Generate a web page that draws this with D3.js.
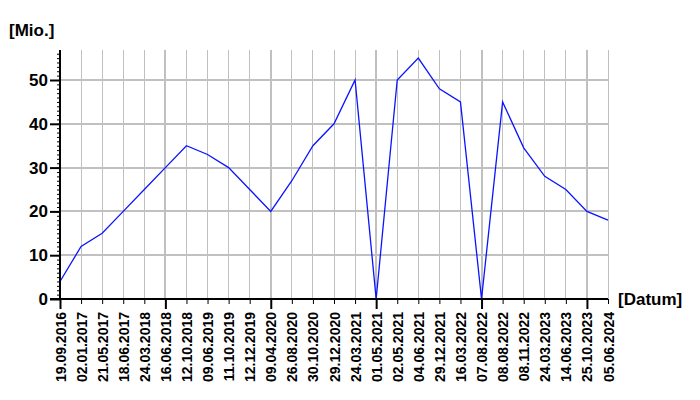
<!DOCTYPE html>
<html>
<head>
<meta charset="utf-8">
<script src="https://cdn.jsdelivr.net/npm/d3@7"></script>
<style>
  html, body { margin: 0; padding: 0; background: #fff; }
  svg { display: block; }
  text { font-family: "Liberation Sans", Arial, sans-serif; fill: #000; }
</style>
</head>
<body>
<svg id="chart" width="700" height="400"></svg>
<script>
const dates = ["19.09.2016","02.01.2017","21.05.2017","18.06.2017","24.03.2018","16.06.2018",
  "12.10.2018","09.06.2019","11.10.2019","12.12.2019","09.04.2020","26.08.2020","30.10.2020",
  "29.12.2020","24.03.2021","01.05.2021","02.05.2021","04.06.2021","29.12.2021","16.03.2022",
  "07.08.2022","08.08.2022","08.11.2022","24.03.2023","14.06.2023","25.10.2023","05.06.2024"];
const values = [4, 12, 15, 20, 25, 30, 35, 33, 30, 25, 20, 27, 35, 40, 50, 0, 50, 55, 48, 45,
  0, 45, 34.5, 28, 25, 20, 18];
const yMajorTicks = [0, 10, 20, 30, 40, 50];
const yMinorTicks = d3.range(0, 57, 1);
const yLabel = "[Mio.]";
const xLabel = "[Datum]";

const svg = d3.select("#chart");
const x = d3.scalePoint().domain(dates).range([60, 608]);
const y = d3.scaleLinear().domain([0, 50]).range([299, 80]);
const yTop = y(56.85);

const grid = svg.append("g").attr("shape-rendering", "crispEdges");
// vertical grid
grid.selectAll("line.v").data(dates).enter().append("line")
  .attr("x1", d => x(d)).attr("x2", d => x(d))
  .attr("y1", yTop).attr("y2", y(0))
  .attr("stroke", "#c0c0c0")
  .attr("stroke-width", (d, i) => i % 5 === 0 ? 2 : 1);
// horizontal grid
grid.selectAll("line.h").data(yMajorTicks.filter(v => v > 0)).enter().append("line")
  .attr("x1", 60).attr("x2", x(dates[dates.length - 1]))
  .attr("y1", d => y(d)).attr("y2", d => y(d))
  .attr("stroke", "#c0c0c0").attr("stroke-width", 2);

// data line
svg.append("path")
  .datum(values)
  .attr("fill", "none")
  .attr("stroke", "#0a14ff")
  .attr("stroke-width", 1.3)
  .attr("d", d3.line().x((d, i) => x(dates[i])).y(d => y(d)));

// Y axis
const yAxisMinor = d3.axisLeft(y).tickValues(yMinorTicks).tickSize(3).tickFormat("");
const yAxisMajor = d3.axisLeft(y).tickValues(yMajorTicks).tickSize(10).tickPadding(2).tickFormat(d3.format("d"));
const gyMinor = svg.append("g").attr("transform", "translate(60,0)").call(yAxisMinor);
gyMinor.select(".domain").remove();
gyMinor.selectAll("line").attr("stroke", "#000").attr("stroke-width", 1);
const gy = svg.append("g").attr("transform", "translate(60,0)").call(yAxisMajor);
gy.select(".domain").remove();
gy.selectAll("line").attr("stroke", "#000").attr("stroke-width", 2);
gy.selectAll("text").attr("font-size", 17).attr("font-weight", "bold")
  .attr("font-family", "'Liberation Sans', Arial, sans-serif").attr("fill", "#000");
svg.append("line").attr("x1", 60).attr("x2", 60).attr("y1", yTop).attr("y2", y(0))
  .attr("stroke", "#000").attr("stroke-width", 2).attr("shape-rendering", "crispEdges");

// X axis
const gx = svg.append("g").attr("transform", `translate(0,${y(0)})`)
  .call(d3.axisBottom(x).tickSize(5).tickPadding(6));
gx.select(".domain").remove();
gx.selectAll(".tick line")
  .attr("stroke", "#000")
  .attr("stroke-width", (d, i) => i % 5 === 0 ? 2 : 1)
  .attr("y2", (d, i) => i % 5 === 0 ? 10 : 5);
gx.selectAll("text")
  .attr("font-size", 14).attr("font-weight", "bold")
  .attr("font-family", "'Liberation Sans', Arial, sans-serif").attr("fill", "#000")
  .attr("text-anchor", "end")
  .attr("transform", "rotate(-90)")
  .attr("x", -13).attr("y", 0).attr("dy", "0.36em");
svg.append("line").attr("x1", 50).attr("x2", x(dates[dates.length - 1]))
  .attr("y1", y(0)).attr("y2", y(0))
  .attr("stroke", "#000").attr("stroke-width", 2).attr("shape-rendering", "crispEdges");

// axis titles
svg.append("text").attr("x", 9).attr("y", 36)
  .attr("font-size", 17).attr("font-weight", "bold").text(yLabel);
svg.append("text").attr("x", 618).attr("y", 305)
  .attr("font-size", 17).attr("font-weight", "bold").text(xLabel);
</script>
</body>
</html>
